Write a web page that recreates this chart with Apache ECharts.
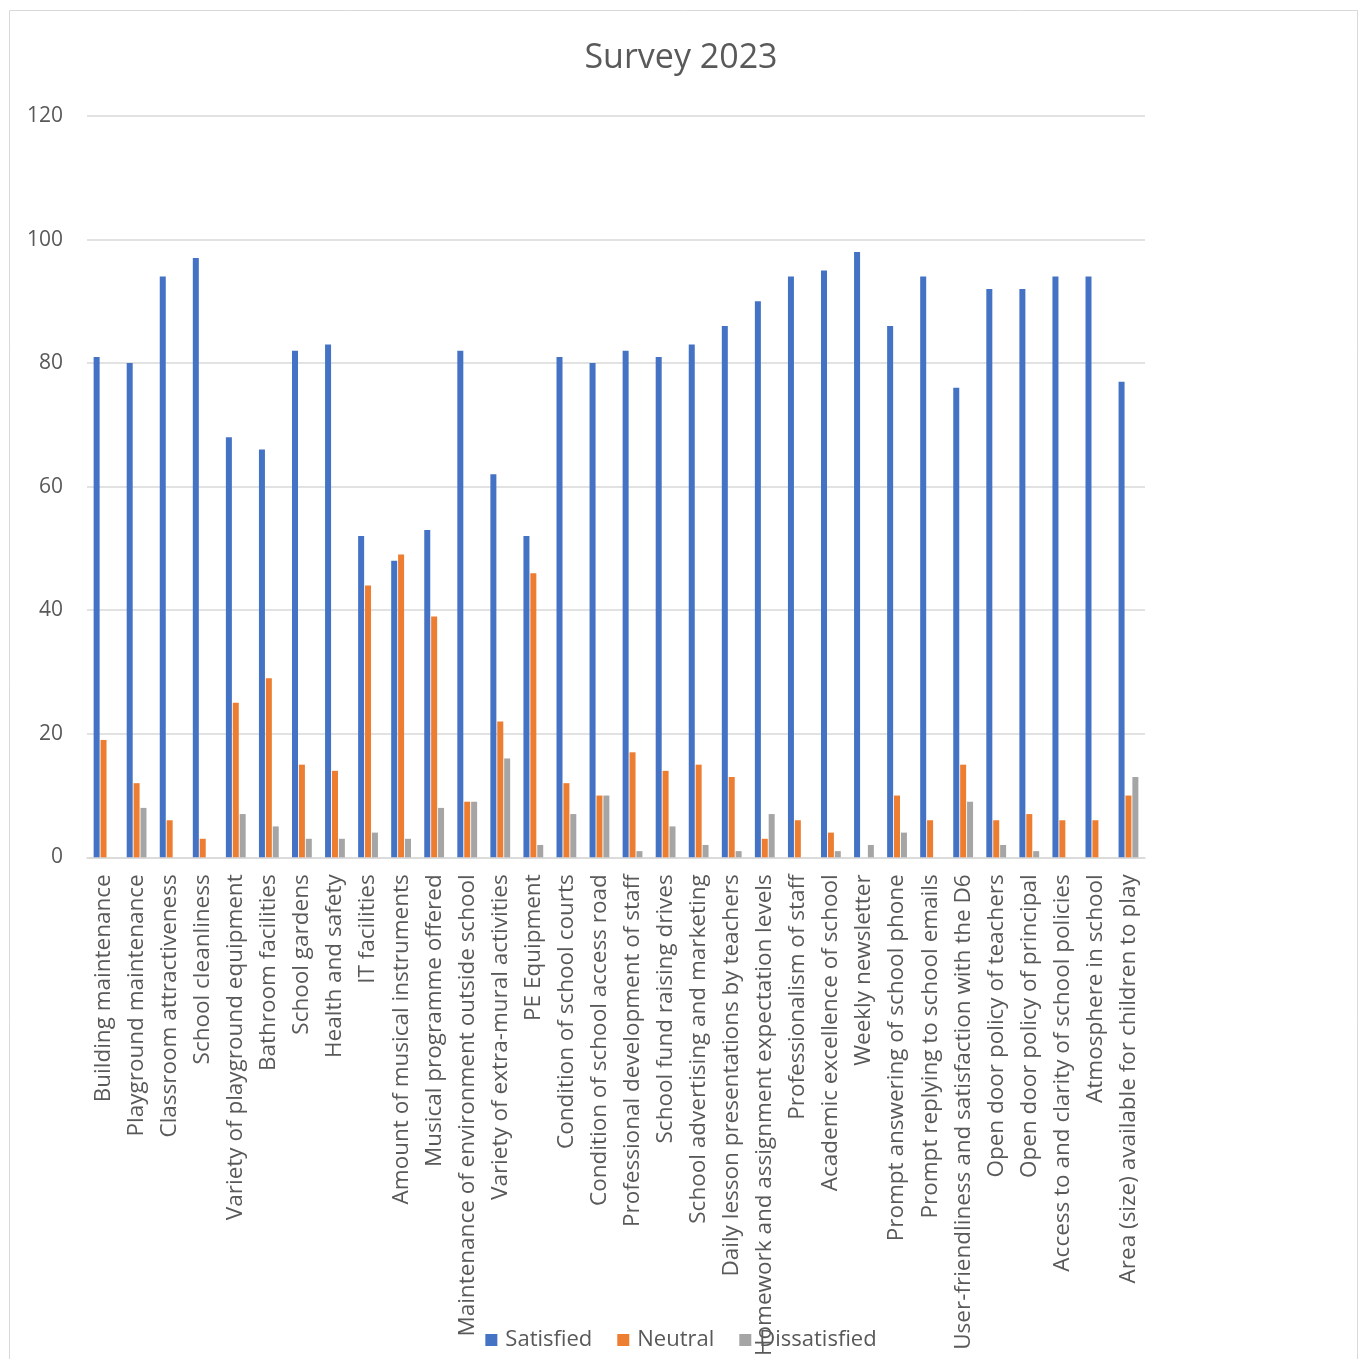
<!DOCTYPE html>
<html>
<head>
<meta charset="utf-8">
<script src="https://cdn.jsdelivr.net/npm/echarts@6/dist/echarts.min.js"></script>
<style>
html,body{margin:0;padding:0;background:#fff;}
#chart{width:1362px;height:1359px;}
</style>
</head>
<body>
<div id="chart"></div>
<script>
const categories = [
  "Building maintenance","Playground maintenance","Classroom attractiveness","School cleanliness",
  "Variety of playground equipment","Bathroom facilities","School gardens","Health and safety",
  "IT facilities","Amount of musical instruments","Musical programme offered",
  "Maintenance of environment outside school","Variety of extra-mural activities","PE Equipment",
  "Condition of school courts","Condition of school access road","Professional development of staff",
  "School fund raising drives","School advertising and marketing","Daily lesson presentations by teachers",
  "Homework and assignment expectation levels","Professionalism of staff","Academic excellence of school",
  "Weekly newsletter","Prompt answering of school phone","Prompt replying to school emails",
  "User-friendliness and satisfaction with the D6","Open door policy of teachers",
  "Open door policy of principal","Access to and clarity of school policies","Atmosphere in school",
  "Area (size) available for children to play"
];
const satisfied    = [81,80,94,97,68,66,82,83,52,48,53,82,62,52,81,80,82,81,83,86,90,94,95,98,86,94,76,92,92,94,94,77];
const neutral      = [19,12,6,3,25,29,15,14,44,49,39,9,22,46,12,10,17,14,15,13,3,6,4,0,10,6,15,6,7,6,6,10];
const dissatisfied = [0,8,0,0,7,5,3,3,4,3,8,9,16,2,7,10,1,5,2,1,7,0,1,2,4,0,9,2,1,0,0,13];
const yTicks = [0,20,40,60,80,100,120];

const FONT = '"Open Sans", "Noto Sans", sans-serif';
const TXT = '#595959';
const chart = echarts.init(document.getElementById('chart'));
chart.setOption({
  animation: false,
  backgroundColor: '#fff',
  graphic: [{
    type: 'rect', left: 7, top: 8,
    shape: {width: 1348, height: 1360},
    style: {fill: 'none', stroke: '#d9d9d9', lineWidth: 1}, silent: true
  }],
  title: {
    text: 'Survey 2023', left: 'center', top: 36,
    textStyle: {fontFamily: FONT, fontSize: 34, fontWeight: 'normal', color: TXT}
  },
  legend: {
    bottom: 3, left: 'center', itemWidth: 12, itemHeight: 12, itemGap: 25,
    icon: 'rect',
    textStyle: {fontFamily: FONT, fontSize: 22, color: TXT, padding: [0,0,0,3]},
    data: ['Satisfied','Neutral','Dissatisfied']
  },
  grid: {left: 87, right: 217, top: 116, bottom: 497, containLabel: false},
  xAxis: {
    type: 'category', data: categories,
    axisLine: {lineStyle: {color: '#d9d9d9', width: 1.5}},
    axisTick: {show: false},
    axisLabel: {rotate: 90, interval: 0, margin: 17, fontFamily: FONT, fontSize: 22.5, color: TXT}
  },
  yAxis: {
    type: 'value', min: 0, max: 120, interval: 20,
    axisLine: {show: false}, axisTick: {show: false},
    splitLine: {lineStyle: {color: '#d9d9d9', width: 1.5}},
    axisLabel: {margin: 24, fontFamily: FONT, fontSize: 21, color: TXT,
      formatter: v => yTicks.includes(v) ? String(v) : ''}
  },
  series: [
    {name: 'Satisfied', type: 'bar', data: satisfied, barWidth: 6, barGap: '15%', itemStyle: {color: '#4472c4'}},
    {name: 'Neutral', type: 'bar', data: neutral, barWidth: 6, barGap: '15%', itemStyle: {color: '#ed7d31'}},
    {name: 'Dissatisfied', type: 'bar', data: dissatisfied, barWidth: 6, barGap: '15%', itemStyle: {color: '#a5a5a5'}}
  ]
});
</script>
</body>
</html>
